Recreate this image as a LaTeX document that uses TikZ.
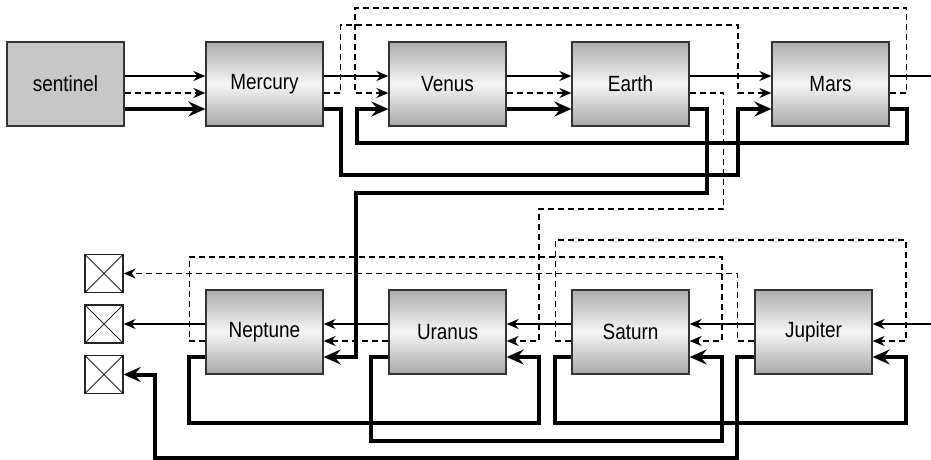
\documentclass[tikz,border=0pt]{standalone}
\usepackage{fontspec}
\setmainfont[FakeStretch=0.86]{Liberation Sans}
\usetikzlibrary{arrows.meta,calc}
\pgfdeclareverticalshading{planetshade}{100bp}{color(0bp)=(black!64); color(50bp)=(black!4); color(100bp)=(black!60)}

\begin{document}
\begin{tikzpicture}[x=1pt,y=-1pt,line join=miter,
  planet/.style={draw=black!80,line width=1.3pt,shading=planetshade,
    minimum width=117pt,minimum height=84pt,inner sep=0pt,font=\fontsize{22}{26}\selectfont},
  guard/.style={draw=black!80,line width=1.3pt,fill=black!22,
    minimum width=117pt,minimum height=84pt,inner sep=0pt,font=\fontsize{22}{26}\selectfont},
  nil/.style={draw=black!85,line width=1.3pt,fill=white,minimum width=38pt,minimum height=38pt,inner sep=0pt,
    path picture={\draw[line width=1pt] (path picture bounding box.north west) -- (path picture bounding box.south east)
      (path picture bounding box.north east) -- (path picture bounding box.south west);}},
  nextptr/.style={line width=1.5pt,-{Stealth[length=12pt,width=10pt,inset=4pt]}},
  dashptr/.style={nextptr,dash pattern=on 6pt off 4pt},
  boldptr/.style={line width=4pt,-{Stealth[length=17pt,width=15pt,inset=6pt]}}]
\useasboundingbox (0,0) rectangle (931,460);
\node[guard] (sentinel) at (65.5,84) {sentinel};
\node[planet] (Mercury) at (264.5,84) {Mercury};
\node[planet] (Venus) at (447.5,84) {Venus};
\node[planet] (Earth) at (630.5,84) {Earth};
\node[planet] (Mars) at (830.5,84) {Mars};
\node[planet] (Neptune) at (264.5,332) {Neptune};
\node[planet] (Uranus) at (447.5,332) {Uranus};
\node[planet] (Saturn) at (630.5,332) {Saturn};
\node[planet] (Jupiter) at (813.5,332) {Jupiter};
\node[nil] (nil1) at (104,273.5) {};
\node[nil] (nil2) at (104,324) {};
\node[nil] (nil3) at (104,374.5) {};
\coordinate (outT) at (931,76);
\coordinate (inB) at (931,324);
\foreach \p in {sentinel,Mercury,Venus,Earth,Mars,Neptune,Uranus,Saturn,Jupiter}{
  \coordinate (\p-wa) at ($(\p.west)+(0,-8)$);
  \coordinate (\p-wb) at ($(\p.west)+(0,9)$);
  \coordinate (\p-wc) at ($(\p.west)+(0,25)$);
  \coordinate (\p-ea) at ($(\p.east)+(0,-8)$);
  \coordinate (\p-eb) at ($(\p.east)+(0,9)$);
  \coordinate (\p-ec) at ($(\p.east)+(0,25)$);
}
\draw[nextptr] (sentinel-ea) -- (Mercury-wa);
\draw[dashptr] (sentinel-eb) -- (Mercury-wb);
\draw[boldptr] (sentinel-ec) -- (Mercury-wc);
\draw[nextptr] (Mercury-ea) -- (Venus-wa);
\draw[dashptr] (Mercury-eb) -- ++(17,0) |- (738,25) |- (Mars-wb);
\draw[boldptr] (Mercury-ec) -- ++(17,0) |- (738,175) |- (Mars-wc);
\draw[nextptr] (Venus-ea) -- (Earth-wa);
\draw[dashptr] (Venus-eb) -- (Earth-wb);
\draw[boldptr] (Venus-ec) -- (Earth-wc);
\draw[nextptr] (Earth-ea) -- (Mars-wa);
\draw[dashptr] (Earth-eb) -- ++(34,0) |- (539,209) |- (Uranus-eb);
\draw[boldptr] (Earth-ec) -- ++(17,0) |- (356,193) |- (Neptune-ec);
\draw[line width=1.5pt] (Mars-ea) -- (outT);
\draw[dashptr] (Mars-eb) -- ++(17,0) |- (355,8) |- (Venus-wb);
\draw[boldptr] (Mars-ec) -- ++(17,0) |- (357,143) |- (Venus-wc);
\draw[nextptr] (inB) -- (Jupiter-ea);
\draw[nextptr] (Jupiter-wa) -- (Saturn-ea);
\draw[nextptr] (Saturn-wa) -- (Uranus-ea);
\draw[nextptr] (Uranus-wa) -- (Neptune-ea);
\draw[nextptr] (Neptune-wa) -- (nil2.east);
\draw[dashptr] (Uranus-wb) -- (Neptune-eb);
\draw[dashptr] (Neptune-wb) -- ++(-16,0) |- (722,257) |- (Saturn-eb);
\draw[boldptr] (Neptune-wc) -- ++(-16,0) |- (539,423) |- (Uranus-ec);
\draw[boldptr] (Uranus-wc) -- ++(-17,0) |- (722,441) |- (Saturn-ec);
\draw[dashptr] (Saturn-wb) -- ++(-16,0) |- (906,240) |- (Jupiter-eb);
\draw[boldptr] (Saturn-wc) -- ++(-16,0) |- (906,423) |- (Jupiter-ec);
\draw[dashptr] (Jupiter-wb) -- ++(-17,0) |- (nil1.east);
\draw[boldptr] (Jupiter-wc) -- ++(-17,0) |- (155,458) |- (nil3.east);
\end{tikzpicture}
\end{document}
